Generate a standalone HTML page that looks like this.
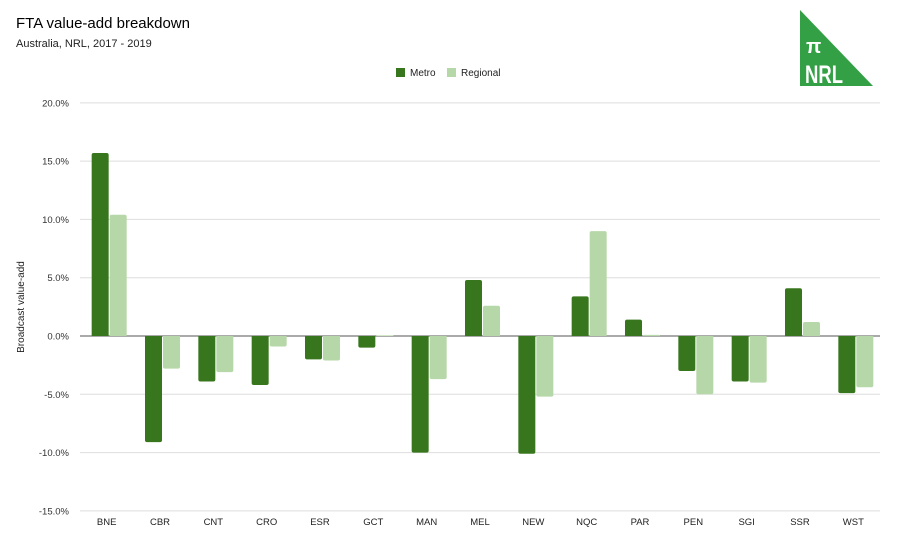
<!DOCTYPE html>
<html><head><meta charset="utf-8"><style>
body{margin:0;background:#fff;font-family:"Liberation Sans",sans-serif}
</style></head><body>
<svg width="900" height="540" xmlns="http://www.w3.org/2000/svg" font-family="Liberation Sans, sans-serif">
<rect width="900" height="540" fill="#fff"/>
<text x="16" y="28" font-size="15" fill="#000">FTA value-add breakdown</text>
<text x="16" y="47" font-size="11" fill="#222">Australia, NRL, 2017 - 2019</text>
<g>
<polygon points="800,10 800,86 873,86" fill="#34a046"/>
<text x="806" y="53" font-size="20" fill="#fff" font-weight="bold">π</text>
<text x="805" y="83" font-size="25" fill="#fff" font-weight="bold" textLength="38" lengthAdjust="spacingAndGlyphs">NRL</text>
</g>
<g>
<rect x="396" y="68" width="9" height="9" fill="#38761d"/>
<text x="410" y="76" font-size="10" fill="#222">Metro</text>
<rect x="447" y="68" width="9" height="9" fill="#b6d7a8"/>
<text x="461" y="76" font-size="10" fill="#222">Regional</text>
</g>
<text transform="translate(24,307) rotate(-90)" text-anchor="middle" font-size="10" fill="#222">Broadcast value-add</text>
<g id="grid"></g><g id="bars"></g><g id="labels"></g>
</svg>
<script>
const categories=["BNE","CBR","CNT","CRO","ESR","GCT","MAN","MEL","NEW","NQC","PAR","PEN","SGI","SSR","WST"];
const metro=[15.7,-9.1,-3.9,-4.2,-2.0,-1.0,-10.0,4.8,-10.1,3.4,1.4,-3.0,-3.9,4.1,-4.9];
const regional=[10.4,-2.8,-3.1,-0.9,-2.1,0.05,-3.7,2.6,-5.2,9.0,0.1,-5.0,-4.0,1.2,-4.4];
const ticks=[20,15,10,5,0,-5,-10,-15];
const NS="http://www.w3.org/2000/svg";
const X0=82,X1=882,Y0=336,PX=(511-103)/35;
const y=v=>Y0-v*PX;
const bw=(X1-X0)/categories.length;
const grid=document.getElementById('grid'),bars=document.getElementById('bars'),labels=document.getElementById('labels');
function mk(tag,attrs,parent){const e=document.createElementNS(NS,tag);for(const k in attrs)e.setAttribute(k,attrs[k]);parent.appendChild(e);return e;}
ticks.forEach(t=>{
  const l=mk('line',{x1:80,x2:880,y1:y(t),y2:y(t),stroke:t===0?'#555':'#ddd','stroke-width':1},grid);
  
  
  const tx=mk('text',{x:69,y:y(t)+3.5,'text-anchor':'end','font-size':9.5,fill:'#333'},labels);
  tx.textContent=t.toFixed(1)+'%';
  
  
});
function bar(x,w,v,color){
  const top=Math.min(y(v),Y0),h=Math.abs(y(v)-Y0),r=Math.min(2,h/2);
  let d;
  if(v>=0)d=`M${x},${Y0}V${top+r}Q${x},${top} ${x+r},${top}H${x+w-r}Q${x+w},${top} ${x+w},${top+r}V${Y0}Z`;
  else{const b=Y0+h;d=`M${x},${Y0}V${b-r}Q${x},${b} ${x+r},${b}H${x+w-r}Q${x+w},${b} ${x+w},${b-r}V${Y0}Z`;}
  return mk('path',{d:d,fill:color},bars);
}
categories.forEach((c,i)=>{
  const cx=X0+bw*(i+0.5);
  const m=bar(cx-17,17,metro[i],'#38761d');
  
  
  const r=bar(cx+1,17,regional[i],'#b6d7a8');
  
  
  const t=mk('text',{x:cx-2,y:525,'text-anchor':'middle','font-size':9.5,fill:'#222'},labels);
  t.textContent=c;
  
  
});
</script>
</body></html>
